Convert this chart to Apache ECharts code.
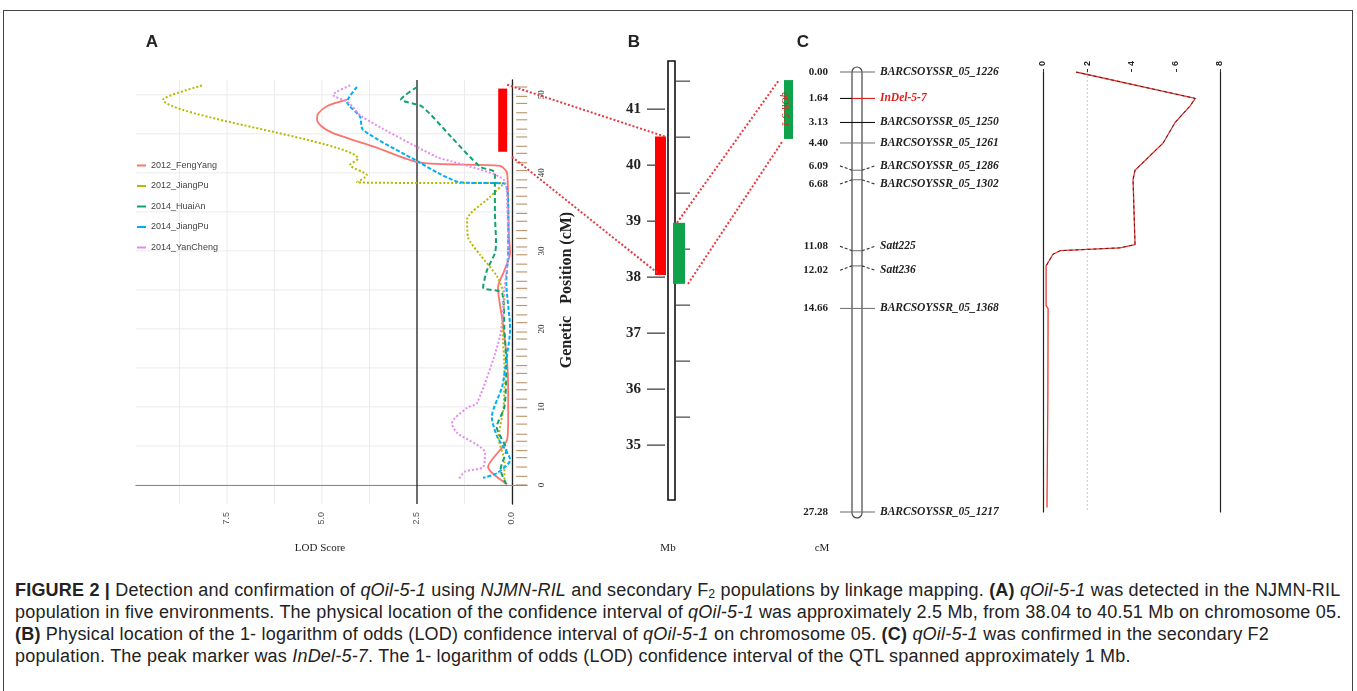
<!DOCTYPE html>
<html>
<head>
<meta charset="utf-8">
<script src="https://cdn.jsdelivr.net/npm/echarts@6/dist/echarts.min.js"></script>
<style>
html, body { margin: 0; padding: 0; background: #fff; }
#frame { position: absolute; left: 3px; top: 10px; width: 1350px; height: 700px; border: 1px solid #444; box-sizing: border-box; }
#chart { position: absolute; left: 0; top: 0; width: 1357px; height: 575px; }
#caption { position: absolute; left: 15px; top: 579px; font-family: 'Liberation Sans', Arial, sans-serif; font-size: 18px; letter-spacing: 0.2px; line-height: 22px; color: #222; white-space: nowrap; }
#caption sub { font-size: 0.68em; vertical-align: -0.2em; line-height: 0; }
</style>
</head>
<body>
<div id="frame"></div>
<div id="chart"></div>
<div id="caption">
<div><b>FIGURE 2 |</b> Detection and confirmation of <i>qOil-5-1</i> using <i>NJMN-RIL</i> and secondary F<sub>2</sub> populations by linkage mapping. <b>(A)</b> <i>qOil-5-1</i> was detected in the NJMN-RIL</div>
<div>population in five environments. The physical location of the confidence interval of <i>qOil-5-1</i> was approximately 2.5 Mb, from 38.04 to 40.51 Mb on chromosome 05.</div>
<div><b>(B)</b> Physical location of the 1- logarithm of odds (LOD) confidence interval of <i>qOil-5-1</i> on chromosome 05. <b>(C)</b> <i>qOil-5-1</i> was confirmed in the secondary F2</div>
<div>population. The peak marker was <i>InDel-5-7</i>. The 1- logarithm of odds (LOD) confidence interval of the QTL spanned approximately 1 Mb.</div>
</div>
<script>
(function () {
    // ---- panel A : LOD profiles, [LOD, cM] ----
    var environments = ['2012_FengYang', '2012_JiangPu', '2014_HuaiAn', '2014_JiangPu', '2014_YanCheng'];
    var lodFengYang2012 = [[4.34, 49.4], [4.85, 48.6], [5.1, 47.6], [5.13, 46.8], [5.0, 45.9], [4.71, 45.1], [3.6, 43.3], [2.42, 41.3], [0.32, 40.9], [0.13, 40.0], [0.1, 36.0], [0.08, 32.0], [0.05, 29.7], [0.2, 27.5], [0.37, 25.3], [0.25, 21.0], [0.13, 16.0], [0.1, 12.0], [0.1, 8.3], [0.13, 5.8], [0.63, 2.3], [0.13, 0.1]];
    var lodJiangPu2012 = [[8.16, 51.2], [9.18, 49.4], [4.05, 41.8], [4.26, 41.0], [3.82, 39.7], [4.08, 38.8], [1.37, 38.7], [0.2, 38.7], [0.58, 36.9], [1.18, 34.0], [1.16, 31.8], [0.84, 29.5], [0.39, 26.7], [0.2, 24.0], [0.25, 20.0], [0.2, 15.0], [0.22, 10.0], [0.35, 6.0], [0.2, 3.0], [0.2, 0.1]];
    var lodHuaiAn2014 = [[2.5, 51.0], [2.92, 49.4], [2.37, 48.5], [1.6, 44.6], [0.84, 40.8], [0.45, 40.0], [0.45, 35.0], [0.42, 31.0], [0.45, 29.7], [0.66, 27.5], [0.76, 25.3], [0.26, 24.6], [0.2, 20.0], [0.15, 15.0], [0.2, 10.0], [0.4, 7.4], [0.15, 4.5], [0.3, 2.0], [0.15, 0.1]];
    var lodJiangPu2014 = [[4.08, 51.0], [4.34, 49.1], [4.0, 47.2], [3.92, 45.5], [2.42, 41.3], [1.95, 40.0], [1.37, 38.8], [0.18, 38.6], [0.1, 35.0], [0.1, 30.0], [0.15, 26.0], [0.05, 20.0], [0.15, 16.0], [0.26, 12.6], [0.53, 8.7], [0.39, 6.2], [0.05, 3.2], [0.4, 1.5], [0.76, 0.9]];
    var lodYanCheng2014 = [[4.26, 51.2], [4.71, 50.0], [4.3, 49.0], [3.95, 47.2], [1.97, 42.0], [1.6, 41.5], [0.2, 39.0], [0.12, 35.0], [0.1, 30.0], [0.2, 25.0], [0.32, 19.0], [0.92, 10.5], [1.18, 9.9], [1.58, 7.9], [1.45, 6.7], [0.71, 4.1], [0.76, 2.3], [1.24, 1.7], [1.42, 0.6]];
    var rilMarkersCm = [0, 1.1, 2.3, 3.5, 4.4, 5.6, 6.5, 7.8, 8.8, 9.9, 11.0, 12.2, 13.1, 14.3, 15.3, 16.5, 17.4, 18.7, 19.6, 20.8, 21.8, 23.0, 24.0, 25.2, 26.1, 27.3, 28.3, 29.5, 30.5, 31.6, 32.6, 33.8, 34.8, 36.0, 37.0, 38.1, 39.1, 40.3, 41.3, 42.5, 43.4, 44.6, 45.6, 46.8, 47.7, 48.9, 49.8, 51.0];
    var lodTicksA = [0, 2.5, 5, 7.5];
    var lodGridA = [0, 1.25, 2.5, 3.75, 5, 6.25, 7.5, 8.75];
    var cmTicksA = [0, 10, 20, 30, 40, 50];
    var cmGridA = [0, 5, 10, 15, 20, 25, 30, 35, 40, 45, 50];
    var lodThreshold = [2.5];
    var ciCmA = [42.7, 50.8];

    // ---- panel B : physical map (Mb) ----
    var mbTicks = [35, 36, 37, 38, 39, 40, 41];
    var mbMinorTicks = [35.5, 36.5, 37.5, 38.5, 39.5, 40.5, 41.5];
    var chrMb = [34.02, 41.86];
    var ciMbA = [38.04, 40.51];
    var ciMbC = [37.88, 38.97];

    // ---- panel C : linkage map (cM) and LOD ----
    var mapCm = [0.00, 1.64, 3.13, 4.40, 6.09, 6.68, 11.08, 12.02, 14.66, 27.28];
    var mapMarkers = ['BARCSOYSSR_05_1226', 'InDel-5-7', 'BARCSOYSSR_05_1250', 'BARCSOYSSR_05_1261', 'BARCSOYSSR_05_1286', 'BARCSOYSSR_05_1302', 'Satt225', 'Satt236', 'BARCSOYSSR_05_1368', 'BARCSOYSSR_05_1217'];
    var peakMarker = 'InDel-5-7';
    var ciCmC = [0.5, 4.15];
    var lodTicksC = [0, 2, 4, 6, 8];
    var lodCurveCm = [0, 1.64, 2.1, 3.13, 4.4, 6.09, 6.68, 10.7, 10.9, 11.08, 11.3, 12.02, 14.5, 14.66, 20.0, 27.0];
    var lodCurveVal = [1.49, 6.88, 6.65, 5.97, 5.43, 4.16, 4.07, 4.16, 3.48, 0.77, 0.45, 0.14, 0.14, 0.23, 0.22, 0.18];

    var SERIF = '"Liberation Serif", "DejaVu Serif", serif';
    var SANS = '"Liberation Sans", Arial, sans-serif';
    var envColors = ['#F8766D', '#B8B800', '#12A26E', '#00B0F6', '#E58BEF'];
    var envTypes = ['solid', [2, 2], [5, 3], [4, 2], [2, 2]];
    var envData = [lodFengYang2012, lodJiangPu2012, lodHuaiAn2014, lodJiangPu2014, lodYanCheng2014];

    var chart = echarts.init(document.getElementById('chart'));

    function vLines(color, width, dash) {
        return function (params, api) {
            var cs = params.coordSys;
            var x = api.coord([api.value(0), 0])[0];
            return { type: 'line', shape: { x1: x, y1: cs.y, x2: x, y2: cs.y + cs.height },
                style: { stroke: color, lineWidth: width, lineDash: dash || null } };
        };
    }
    function hLines(color, width) {
        return function (params, api) {
            var cs = params.coordSys;
            var y = api.coord([0, api.value(1)])[1];
            return { type: 'line', shape: { x1: cs.x, y1: y, x2: cs.x + cs.width, y2: y },
                style: { stroke: color, lineWidth: width } };
        };
    }
    function one(arr) { return arr.map(function (v) { return [v]; }); }

    var series = [];
    // A background grid
    series.push({ type: 'custom', xAxisIndex: 0, yAxisIndex: 0, silent: true, z: 0,
        renderItem: vLines('#ebebeb', 1), data: one(lodGridA) });
    series.push({ type: 'custom', xAxisIndex: 0, yAxisIndex: 0, silent: true, z: 0,
        renderItem: hLines('#ebebeb', 1), data: cmGridA.map(function (v) { return [0, v]; }),
        encode: { y: 1 } });
    series.push({ type: 'custom', xAxisIndex: 0, yAxisIndex: 0, silent: true, z: 1,
        renderItem: vLines('#222', 1.3), data: one(lodThreshold) });
    // marker rug
    series.push({ type: 'custom', xAxisIndex: 0, yAxisIndex: 0, silent: true, z: 1,
        renderItem: function (params, api) {
            var cs = params.coordSys;
            var y = api.coord([0, api.value(1)])[1];
            return { type: 'line', shape: { x1: cs.x + cs.width - 11, y1: y, x2: cs.x + cs.width, y2: y },
                style: { stroke: '#b9926a', lineWidth: 1.1 } };
        },
        data: rilMarkersCm.map(function (v) { return [0, v]; }), encode: { y: 1 } });
    // A confidence bar
    series.push({ type: 'custom', xAxisIndex: 0, yAxisIndex: 0, silent: true, z: 3,
        renderItem: function (params, api) {
            var cs = params.coordSys;
            var y1 = api.coord([0, api.value(1)])[1];
            var y2 = api.coord([0, api.value(2)])[1];
            return { type: 'rect', shape: { x: cs.x + cs.width - 29, y: y1, width: 9, height: y2 - y1 },
                style: { fill: '#ff0000' } };
        },
        data: [[0, ciCmA[1], ciCmA[0]]], encode: { y: [1, 2] } });
    // A LOD curves
    environments.forEach(function (name, i) {
        series.push({ name: name, type: 'line', xAxisIndex: 0, yAxisIndex: 0, z: 2,
            showSymbol: false, smooth: 0.25, data: envData[i],
            itemStyle: { color: envColors[i] },
            lineStyle: { color: envColors[i], width: i === 0 ? 1.8 : 2, type: envTypes[i] } });
    });

    // B physical map
    series.push({ type: 'custom', xAxisIndex: 1, yAxisIndex: 1, silent: true, z: 2,
        renderItem: function (params, api) {
            var p1 = api.coord([28, api.value(1)]);
            var p2 = api.coord([35, api.value(0)]);
            return { type: 'rect', shape: { x: p1[0], y: p1[1], width: p2[0] - p1[0], height: p2[1] - p1[1] },
                style: { fill: '#fff', stroke: '#111', lineWidth: 1.6 } };
        },
        data: [chrMb] });
    series.push({ type: 'custom', xAxisIndex: 1, yAxisIndex: 1, silent: true, z: 3,
        renderItem: function (params, api) {
            var p1 = api.coord([7, api.value(0)]);
            var p2 = api.coord([25, api.value(0)]);
            return { type: 'group', children: [
                { type: 'line', shape: { x1: p1[0], y1: p1[1], x2: p2[0], y2: p2[1] }, style: { stroke: '#333', lineWidth: 1.2 } },
                { type: 'text', x: p1[0] - 6, y: p1[1], style: { text: String(api.value(0)), textAlign: 'right', textVerticalAlign: 'middle', font: 'bold 15px ' + SERIF, fill: '#222' } }
            ] };
        },
        data: one(mbTicks) });
    series.push({ type: 'custom', xAxisIndex: 1, yAxisIndex: 1, silent: true, z: 2,
        renderItem: function (params, api) {
            var p1 = api.coord([35, api.value(0)]);
            var p2 = api.coord([50, api.value(0)]);
            return { type: 'line', shape: { x1: p1[0], y1: p1[1], x2: p2[0], y2: p2[1] }, style: { stroke: '#444', lineWidth: 1.2 } };
        },
        data: one(mbMinorTicks) });
    series.push({ type: 'custom', xAxisIndex: 1, yAxisIndex: 1, silent: true, z: 4,
        renderItem: function (params, api) {
            var x0 = api.value(2), x1 = api.value(3);
            var p1 = api.coord([x0, api.value(1)]);
            var p2 = api.coord([x1, api.value(0)]);
            return { type: 'rect', shape: { x: p1[0], y: p1[1], width: p2[0] - p1[0], height: p2[1] - p1[1] },
                style: { fill: params.dataIndex === 0 ? '#ff0000' : '#0ea24b' } };
        },
        data: [[ciMbA[0], ciMbA[1], 15, 26], [ciMbC[0], ciMbC[1], 33, 45]] });

    // C linkage map
    series.push({ type: 'custom', xAxisIndex: 2, yAxisIndex: 2, silent: true, z: 2,
        renderItem: function (params, api) {
            var p1 = api.coord([92, api.value(0)]);
            var p2 = api.coord([102, api.value(1)]);
            return { type: 'rect', shape: { x: p1[0], y: p1[1], width: p2[0] - p1[0], height: p2[1] - p1[1], r: 5 },
                style: { fill: '#fff', stroke: '#444', lineWidth: 1.2 } };
        },
        data: [[-0.31, 27.65]] });
    series.push({ type: 'custom', xAxisIndex: 2, yAxisIndex: 2, silent: true, z: 3,
        renderItem: function (params, api) {
            var i = params.dataIndex;
            var cm = mapCm[i];
            var shift = 0;
            if (i + 1 < mapCm.length && mapCm[i + 1] - cm < 1) shift = -0.27;
            if (i > 0 && cm - mapCm[i - 1] < 1) shift = 0.27;
            var lab = cm + shift;
            var peak = mapMarkers[i] === peakMarker;
            var col = peak ? '#e0201c' : (cm === 3.13 ? '#111' : '#777');
            var a = api.coord([80, lab]), b = api.coord([92, cm]), c = api.coord([102, cm]), d = api.coord([115, lab]);
            var dash = shift !== 0 ? [3, 2] : null;
            return { type: 'group', children: [
                { type: 'line', shape: { x1: a[0], y1: a[1], x2: b[0], y2: b[1] }, style: { stroke: peak ? '#111' : (shift ? '#333' : col), lineWidth: 1.1, lineDash: dash } },
                { type: 'line', shape: { x1: b[0], y1: b[1], x2: c[0], y2: c[1] }, style: { stroke: col, lineWidth: 1.1 } },
                { type: 'line', shape: { x1: c[0], y1: c[1], x2: d[0], y2: d[1] }, style: { stroke: shift ? '#333' : col, lineWidth: 1.1, lineDash: dash } },
                { type: 'text', x: a[0] - 12, y: a[1], style: { text: cm.toFixed(2), textAlign: 'right', textVerticalAlign: 'middle', font: 'bold 11px ' + SERIF, fill: '#222' } },
                { type: 'text', x: d[0] + 5, y: d[1], style: { text: mapMarkers[i], textAlign: 'left', textVerticalAlign: 'middle', font: 'italic bold 11.5px ' + SERIF, fill: peak ? '#e0201c' : '#222' } }
            ] };
        },
        data: mapCm.map(function (v) { return [0, v]; }), encode: { y: 1 } });
    series.push({ type: 'custom', xAxisIndex: 2, yAxisIndex: 2, silent: true, z: 3,
        renderItem: function (params, api) {
            var p1 = api.coord([24, api.value(0)]);
            var p2 = api.coord([33, api.value(1)]);
            var mid = api.coord([25, (api.value(0) + api.value(1)) / 2]);
            return { type: 'group', children: [
                { type: 'rect', shape: { x: p1[0], y: p1[1], width: p2[0] - p1[0], height: p2[1] - p1[1] }, style: { fill: '#0ea24b' } },
                { type: 'text', x: mid[0], y: mid[1], rotation: -Math.PI / 2,
                  style: { text: 'qOil-5-1', textAlign: 'center', textVerticalAlign: 'middle', font: 'italic 10px ' + SERIF, fill: '#e0201c' } }
            ] };
        },
        data: [ciCmC] });

    // C LOD profile
    var lodCurve = lodCurveCm.map(function (cm, i) { return [lodCurveVal[i], cm]; });
    series.push({ type: 'custom', xAxisIndex: 3, yAxisIndex: 3, silent: true, z: 1,
        renderItem: vLines('#c8c8c8', 1, [2, 2]), data: [[2]] });
    series.push({ type: 'line', xAxisIndex: 3, yAxisIndex: 3, showSymbol: false, z: 2,
        data: lodCurve, lineStyle: { color: '#ea3b36', width: 1.3 } });
    series.push({ type: 'line', xAxisIndex: 3, yAxisIndex: 3, showSymbol: false, z: 3,
        data: lodCurve.slice(0, 12), lineStyle: { color: '#5a1a1a', width: 1, type: [3, 3] } });

    var option = {
        animation: false,
        textStyle: { fontFamily: SANS },
        legend: {
            data: environments, orient: 'vertical', left: 132, top: 156,
            itemWidth: 9, itemHeight: 2, itemGap: 11.5, icon: 'rect', selectedMode: false,
            textStyle: { fontSize: 9, color: '#444', fontFamily: SANS }
        },
        grid: [
            { left: 135.8, top: 80, width: 391.4, height: 424 },
            { left: 640, top: 61, width: 60, height: 439 },
            { left: 760, top: 72, width: 200, height: 440 },
            { left: 1043, top: 72, width: 177, height: 440 }
        ],
        xAxis: [
            { gridIndex: 0, type: 'value', min: -0.4, max: 9.9, inverse: true,
              axisLine: { show: true, lineStyle: { color: '#888', width: 1 } }, axisTick: { show: false },
              splitLine: { show: false },
              axisLabel: { customValues: lodTicksA, rotate: 90, fontSize: 9, color: '#555', margin: 8,
                  formatter: function (v) { return v.toFixed(1); } } },
            { gridIndex: 1, type: 'value', min: 0, max: 60, show: false },
            { gridIndex: 2, type: 'value', min: 0, max: 200, show: false },
            { gridIndex: 3, type: 'value', min: 0, max: 8, position: 'top',
              axisLine: { show: false }, splitLine: { show: false },
              axisTick: { show: true, customValues: lodTicksC, length: 3, lineStyle: { color: '#333' } },
              axisLabel: { customValues: lodTicksC, rotate: 90, fontSize: 9, fontWeight: 'bold', color: '#222', margin: 6 } }
        ],
        yAxis: [
            { gridIndex: 0, type: 'value', min: -2.44, max: 51.9, position: 'right',
              axisLine: { show: true, lineStyle: { color: '#222', width: 1.3 } }, axisTick: { show: false },
              splitLine: { show: false },
              axisLabel: { customValues: cmTicksA, rotate: 90, fontSize: 9, color: '#333', margin: 10, fontFamily: SERIF } },
            { gridIndex: 1, type: 'value', min: 34.02, max: 41.86, show: false },
            { gridIndex: 2, type: 'value', min: 0, max: 27.28, inverse: true, show: false },
            { gridIndex: 3, type: 'value', min: 0, max: 27.28, inverse: true, position: 'left',
              axisLine: { show: true, onZero: false, lineStyle: { color: '#222', width: 1.2 } },
              axisTick: { show: false }, axisLabel: { show: false }, splitLine: { show: false } },
            { gridIndex: 3, type: 'value', min: 0, max: 27.28, inverse: true, position: 'right',
              axisLine: { show: true, onZero: false, lineStyle: { color: '#222', width: 1.2 } },
              axisTick: { show: false }, axisLabel: { show: false }, splitLine: { show: false } }
        ],
        series: series
    };
    chart.setOption(option);

    // labels and connecting lines between the panels
    function px(grid, pt) { return chart.convertToPixel({ gridIndex: grid }, pt); }
    function dotted(a, b, color) {
        return { type: 'line', silent: true, z: 10, shape: { x1: a[0], y1: a[1], x2: b[0], y2: b[1] },
            style: { stroke: color, lineWidth: 2, lineDash: [2, 2] } };
    }
    function label(text, x, y, font, rot) {
        return { type: 'text', x: x, y: y, rotation: rot || 0, silent: true, z: 10,
            style: { text: text, font: font, fill: '#222', textAlign: 'center', textVerticalAlign: 'middle' } };
    }
    var red = '#e8383d';
    chart.setOption({
        graphic: [
            label('A', 152, 42, 'bold 17px ' + SANS),
            label('B', 634, 42, 'bold 17px ' + SANS),
            label('C', 803, 42, 'bold 17px ' + SANS),
            label('LOD Score', 320, 548, '11px ' + SERIF),
            label('Mb', 668, 548, '11px ' + SERIF),
            label('cM', 822, 548, '11px ' + SERIF),
            label('Genetic   Position (cM)', 567, 290, 'bold 16px ' + SERIF, Math.PI / 2),
            dotted(px(0, [0.13, 51.3]), px(1, [25, ciMbA[1]]), red),
            dotted(px(0, [0.0, 42.05]), px(1, [20, ciMbA[0]]), red),
            dotted(px(1, [37, ciMbC[1]]), px(2, [19, ciCmC[0]]), red),
            dotted(px(1, [48, ciMbC[0]]), px(2, [22, 4.34]), red)
        ]
    });
})();
</script>
</body>
</html>
